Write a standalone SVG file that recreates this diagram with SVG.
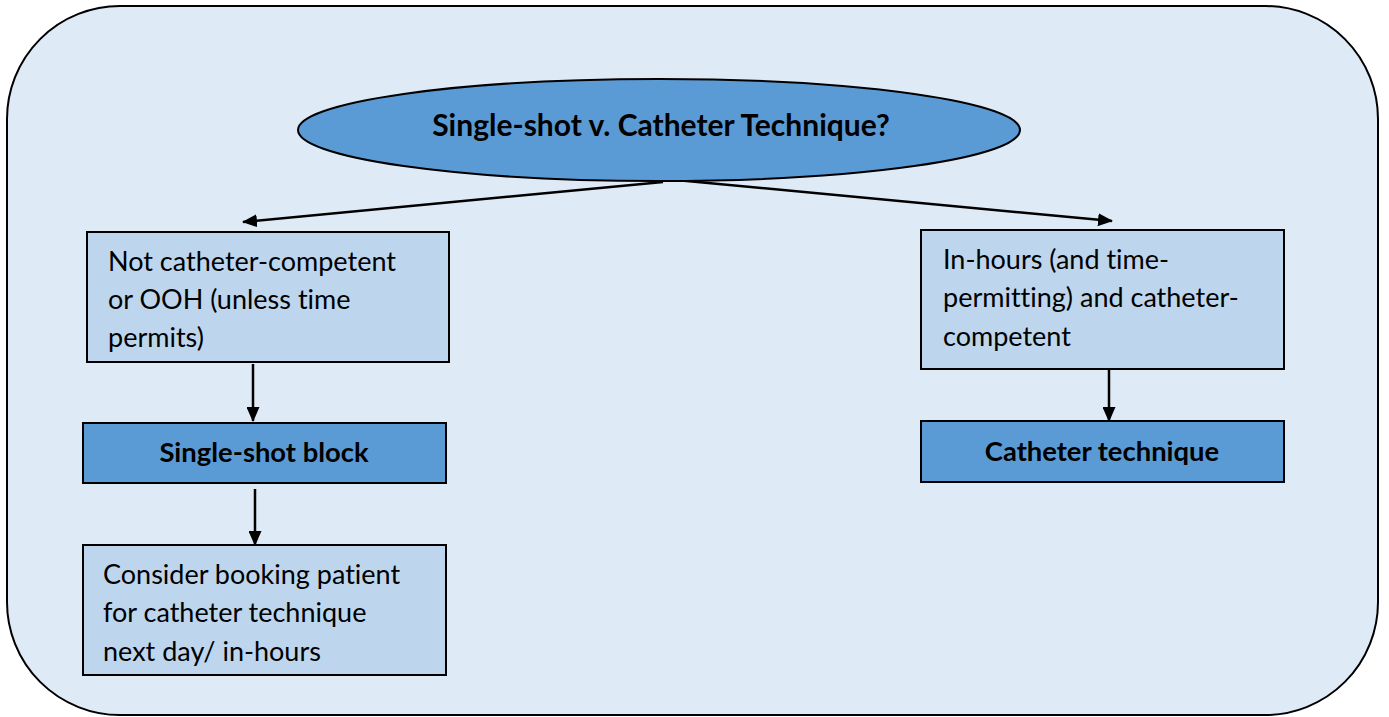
<svg xmlns="http://www.w3.org/2000/svg" width="1389" height="717" viewBox="0 0 1389 717">
<style>
text{font-variant-ligatures:none}
.t{font-family:Lato,"Liberation Sans",sans-serif;font-size:27px;fill:#000}
.b{font-family:Lato,"Liberation Sans",sans-serif;font-size:27.4px;font-weight:bold;fill:#000;text-anchor:middle}
.title{font-size:30px}
.light{fill:#bdd6ee;stroke:#000;stroke-width:2}
.dark{fill:#5b9bd5;stroke:#000;stroke-width:2}
.c{stroke:#000;stroke-width:2.5;fill:none;marker-end:url(#ah)}
</style>
<defs>
<marker id="ah" markerWidth="15" markerHeight="13" refX="14" refY="6.5" orient="auto" markerUnits="userSpaceOnUse">
<path d="M0,0 L15,6.5 L0,13 Z" fill="#000"/>
</marker>
</defs>
<rect id="frame" x="7" y="6" width="1371" height="709" rx="113" ry="113" fill="#deeaf6" stroke="#000" stroke-width="2"/>
<g id="connectors">
<line class="c" x1="663" y1="182" x2="243" y2="222"/>
<line class="c" x1="676" y1="180" x2="1112" y2="221"/>
<line class="c" x1="253" y1="364" x2="253" y2="421"/>
<line class="c" x1="255" y1="489" x2="255" y2="545"/>
<line class="c" x1="1109" y1="369" x2="1109" y2="421"/>
</g>
<g id="start">
<ellipse class="dark" cx="659" cy="130" rx="361" ry="51"/>
<text class="b title" x="661" y="136">Single-shot v. Catheter Technique?</text>
</g>
<g id="not-competent">
<rect class="light" x="87" y="232" width="362" height="130"/>
<text class="t" x="108" y="271">Not catheter-competent</text>
<text class="t" x="108" y="309">or OOH (unless time</text>
<text class="t" x="108" y="347">permits)</text>
</g>
<g id="single-shot">
<rect class="dark" x="83" y="423" width="363" height="60"/>
<text class="b" x="264" y="462">Single-shot block</text>
</g>
<g id="consider">
<rect class="light" x="83" y="545" width="363" height="130"/>
<text class="t" x="103" y="584">Consider booking patient</text>
<text class="t" x="103" y="622">for catheter technique</text>
<text class="t" x="103" y="661">next day/ in-hours</text>
</g>
<g id="in-hours">
<rect class="light" x="921" y="230" width="363" height="139"/>
<text class="t" x="943" y="269">In-hours (and time-</text>
<text class="t" x="943" y="307">permitting) and catheter-</text>
<text class="t" x="943" y="346">competent</text>
</g>
<g id="catheter">
<rect class="dark" x="921" y="421" width="363" height="61"/>
<text class="b" x="1102" y="461">Catheter technique</text>
</g>
</svg>
